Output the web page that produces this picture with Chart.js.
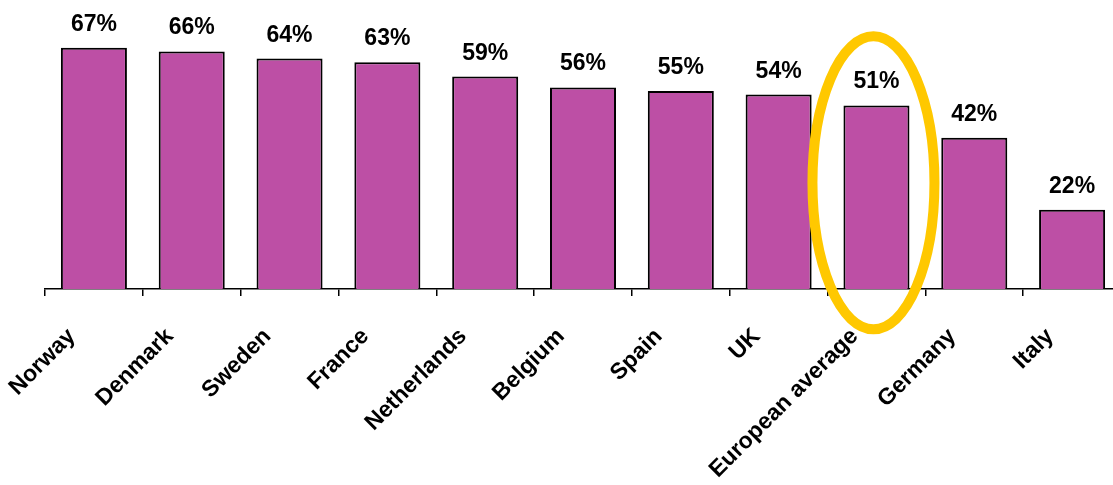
<!DOCTYPE html>
<html>
<head>
<meta charset="utf-8">
<script src="https://cdn.jsdelivr.net/npm/chart.js@4"></script>
<style>
    html, body { margin: 0; padding: 0; background: #fff; overflow: hidden; }
    #wrap { width: 1113px; height: 485px; overflow: hidden; }
</style>
</head>
<body>
<div id="wrap"><canvas id="barChart" width="1121" height="485"></canvas></div>
<script>
const countries = ['Norway', 'Denmark', 'Sweden', 'France', 'Netherlands', 'Belgium', 'Spain', 'UK', 'European average', 'Germany', 'Italy'];
const shares = [67, 66, 64, 63, 59, 56, 55, 54, 51, 42, 22];
const highlighted = 'European average';

const FONT = '"Liberation Sans", Arial, sans-serif';

// Percent labels above each bar
const valueLabels = {
    id: 'valueLabels',
    afterDatasetsDraw(chart) {
        const ctx = chart.ctx;
        const meta = chart.getDatasetMeta(0);
        ctx.save();
        ctx.font = 'bold 23px ' + FONT;
        ctx.fillStyle = '#000';
        ctx.textAlign = 'center';
        ctx.textBaseline = 'alphabetic';
        meta.data.forEach((bar, i) => {
            ctx.fillText(shares[i] + '%', bar.x, bar.y - 17);
        });
        ctx.restore();
    }
};

// Yellow ring around the highlighted bar
const highlightRing = {
    id: 'highlightRing',
    afterDraw(chart) {
        const ctx = chart.ctx;
        const idx = countries.indexOf(highlighted);
        const cx = chart.scales.x.getPixelForValue(idx);
        const cy = chart.scales.y.getPixelForValue(29.5);
        ctx.save();
        ctx.strokeStyle = '#FFC800';
        ctx.lineWidth = 10;
        ctx.beginPath();
        ctx.ellipse(cx - 3, cy, 61, 146.5, 0, 0, Math.PI * 2);
        ctx.stroke();
        ctx.restore();
    }
};

const ctx = document.getElementById('barChart').getContext('2d');
new Chart(ctx, {
    type: 'bar',
    data: {
        labels: countries,
        datasets: [{
            data: shares,
            backgroundColor: '#BD4FA5',
            borderColor: '#000',
            borderWidth: 2,
            borderSkipped: 'bottom',
            categoryPercentage: 1,
            barPercentage: 0.675
        }]
    },
    options: {
        responsive: false,
        animation: false,
        layout: { padding: { left: 45, right: 0, top: 1, bottom: 0 } },
        plugins: {
            legend: { display: false },
            tooltip: { enabled: false }
        },
        scales: {
            x: {
                offset: true,
                border: { display: true, color: '#000', width: 1.5 },
                grid: {
                    offset: true,
                    drawOnChartArea: false,
                    drawTicks: true,
                    tickLength: 7,
                    color: '#000',
                    lineWidth: 1.5
                },
                ticks: {
                    autoSkip: false,
                    minRotation: 45,
                    maxRotation: 45,
                    padding: 27,
                    labelOffset: -22,
                    color: '#000',
                    font: { family: FONT, size: 23, weight: 'bold' }
                },
                afterFit(scale) {
                    scale.height = 196;
                    scale.paddingLeft = 0;
                    scale.paddingRight = 0;
                }
            },
            y: {
                display: false,
                min: 0,
                max: 80
            }
        }
    },
    plugins: [valueLabels, highlightRing]
});
</script>
</body>
</html>
